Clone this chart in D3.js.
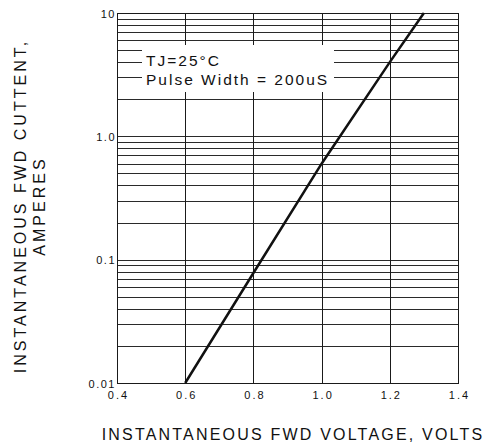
<!DOCTYPE html>
<html>
<head>
<meta charset="utf-8">
<script src="https://cdn.jsdelivr.net/npm/d3@7"></script>
<style>
  body { margin: 0; background: #fff; }
  svg text { font-family: "Liberation Sans", Arial, sans-serif; fill: #111; }
</style>
</head>
<body>
<div id="chart"></div>
<script>
// forward voltage (V) vs forward current (A)
const voltage = [0.6, 0.8, 1.0, 1.2, 1.3];
const current = [0.01, 0.078, 0.60, 4.0, 10];

const xTicks = [0.4, 0.6, 0.8, 1.0, 1.2, 1.4];
const yTicks = [0.01, 0.1, 1, 10];
const yTickLabels = ["0.01", "0.1", "1.0", "10"];

const legendLines = ["TJ=25°C", "Pulse Width = 200uS"];
const xTitle = "INSTANTANEOUS FWD VOLTAGE, VOLTS";
const yTitle = ["INSTANTANEOUS FWD CUTTENT,", "AMPERES"];

const W = 488, H = 446;
const margin = { top: 13, right: 30, bottom: 63, left: 117 };
const width = W - margin.left - margin.right;   // 341
const height = H - margin.top - margin.bottom;  // 370

const svg = d3.select("#chart")
    .append("svg")
    .attr("width", W)
    .attr("height", H);

const g = svg.append("g")
    .attr("transform", `translate(${margin.left},${margin.top})`);

const x = d3.scaleLinear().domain([0.4, 1.4]).range([0, width]);
const y = d3.scaleLog().domain([0.01, 10]).range([height, 0]);

// horizontal grid, every 1..9 of each decade
g.append("g")
    .selectAll("line")
    .data(y.ticks())
    .enter()
    .append("line")
    .attr("x1", 0)
    .attr("x2", width)
    .attr("y1", d => Math.round(y(d)) + 0.5)
    .attr("y2", d => Math.round(y(d)) + 0.5)
    .attr("stroke", "#2a2a2a")
    .attr("stroke-width", 1);

// vertical grid
g.append("g")
    .selectAll("line")
    .data(xTicks)
    .enter()
    .append("line")
    .attr("x1", d => Math.round(x(d)) + 0.5)
    .attr("x2", d => Math.round(x(d)) + 0.5)
    .attr("y1", 0)
    .attr("y2", height)
    .attr("stroke", "#1a1a1a")
    .attr("stroke-width", 1);

// frame
g.append("rect")
    .attr("x", 0.5)
    .attr("y", 0.5)
    .attr("width", width)
    .attr("height", height)
    .attr("fill", "none")
    .attr("stroke", "#1a1a1a")
    .attr("stroke-width", 1);

// legend box covers the grid behind it
g.append("rect")
    .attr("x", 142 - margin.left)
    .attr("y", 45 - margin.top)
    .attr("width", 192)
    .attr("height", 47)
    .attr("fill", "#fff");

g.append("g")
    .selectAll("text")
    .data(legendLines)
    .enter()
    .append("text")
    .attr("x", 146 - margin.left)
    .attr("y", (d, i) => 66 - margin.top + i * 19)
    .style("font-size", "15.5px")
    .style("letter-spacing", "2px")
    .text(d => d);

// curve
const line = d3.line()
    .x(d => x(d[0]))
    .y(d => y(d[1]));

g.append("path")
    .datum(d3.zip(voltage, current))
    .attr("fill", "none")
    .attr("stroke", "#111")
    .attr("stroke-width", 2.5)
    .attr("d", line);

// X axis labels
const xAxis = g.append("g")
    .attr("transform", `translate(1,${height})`)
    .call(d3.axisBottom(x).tickValues(xTicks).tickSize(0).tickPadding(8).tickFormat(d3.format(".1f")));
xAxis.select(".domain").remove();
xAxis.selectAll("text")
    .style("font-size", "11px")
    .style("letter-spacing", "2px")
    .style("font-family", "'Liberation Sans', Arial, sans-serif")
    .attr("fill", "#111");

// Y axis labels
const yAxis = g.append("g")
    .attr("transform", "translate(1,0.5)")
    .call(d3.axisLeft(y).tickValues(yTicks).tickSize(0).tickPadding(2)
        .tickFormat((d, i) => yTickLabels[i]));
yAxis.select(".domain").remove();
yAxis.selectAll("text")
    .style("font-size", "11px")
    .style("letter-spacing", "1.5px")
    .style("font-family", "'Liberation Sans', Arial, sans-serif")
    .attr("fill", "#111");

// axis titles
svg.append("text")
    .attr("x", 293)
    .attr("y", 440)
    .attr("text-anchor", "middle")
    .style("font-size", "16px")
    .style("letter-spacing", "2.2px")
    .text(xTitle);

svg.append("g")
    .selectAll("text")
    .data(yTitle)
    .enter()
    .append("text")
    .attr("transform", (d, i) => `translate(${26 + i * 18.5},206) rotate(-90)`)
    .attr("text-anchor", "middle")
    .style("font-size", "16px")
    .style("letter-spacing", "3px")
    .text(d => d);
</script>
</body>
</html>
